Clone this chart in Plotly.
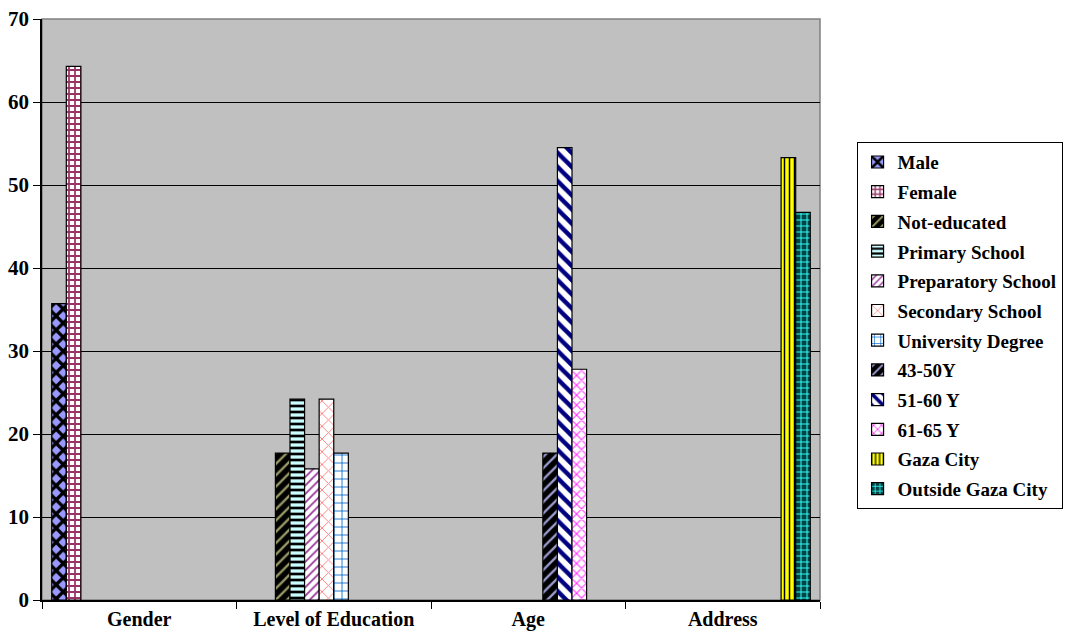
import plotly.graph_objects as go

categories = ["Gender", "Level of Education", "Age", "Address"]

series_names = [
    "Male", "Female", "Not-educated", "Primary School", "Preparatory School",
    "Secondary School", "University Degree", "43-50Y", "51-60 Y", "61-65 Y",
    "Gaza City", "Outside Gaza City",
]

# percentage per series, one value in the category it belongs to
male = [35.7, None, None, None]
female = [64.3, None, None, None]
not_educated = [None, 17.7, None, None]
primary_school = [None, 24.2, None, None]
preparatory_school = [None, 15.8, None, None]
secondary_school = [None, 24.2, None, None]
university_degree = [None, 17.7, None, None]
age_43_50 = [None, None, 17.7, None]
age_51_60 = [None, None, 54.5, None]
age_61_65 = [None, None, 27.8, None]
gaza_city = [None, None, None, 53.3]
outside_gaza_city = [None, None, None, 46.7]

series_values = [
    male, female, not_educated, primary_school, preparatory_school,
    secondary_school, university_degree, age_43_50, age_51_60, age_61_65,
    gaza_city, outside_gaza_city,
]

y_ticks = [0, 10, 20, 30, 40, 50, 60, 70]

# (background colour, pattern colour, pattern shape, solidity, size)
styles = [
    ("#9999FF", "#000000", "x", 0.55, 10),
    ("#FFFFFF", "#993366", "+", 0.5, 6),
    ("#000000", "#999966", "/", 0.3, 8),
    ("#CCFFFF", "#000000", "-", 0.45, 6),
    ("#FFFFFF", "#993399", "/", 0.3, 6),
    ("#FFFFFF", "#FF8080", "x", 0.2, 9),
    ("#FFFFFF", "#0066CC", "+", 0.2, 8),
    ("#000000", "#9999CC", "/", 0.3, 8),
    ("#FFFFFF", "#000080", "\\", 0.45, 10),
    ("#FFFFFF", "#FF33FF", "x", 0.3, 7),
    ("#FFFF00", "#000000", "|", 0.3, 5),
    ("#004444", "#33FFFF", "+", 0.3, 6),
]

font_family = "Liberation Serif, Times New Roman, serif"

fig = go.Figure()
for i, (name, vals) in enumerate(zip(series_names, series_values)):
    bg, fg, shape, solid, size = styles[i]
    fig.add_trace(go.Bar(
        name=name,
        x=categories,
        y=vals,
        legendgroup=name,
        marker=dict(
            color=bg,
            line=dict(color="#000000", width=1.2),
            pattern=dict(shape=shape, fgcolor=fg, bgcolor=bg,
                         size=size, solidity=solid, fillmode="replace"),
        ),
    ))

# light frame around the plotting area
fig.add_shape(type="rect", xref="paper", yref="paper", x0=0, y0=0, x1=1, y1=1,
              line=dict(color="#808080", width=1.5), layer="below")

fig.update_layout(
    width=1074,
    height=635,
    margin=dict(l=42, r=254, t=19, b=35, autoexpand=False),
    paper_bgcolor="#FFFFFF",
    plot_bgcolor="#C0C0C0",
    barmode="group",
    bargap=0.1,
    bargroupgap=0,
    font=dict(family=font_family, size=19, color="#000000"),
    showlegend=True,
    legend=dict(
        x=1.047, y=0.788, xanchor="left", yanchor="top",
        bordercolor="#000000", borderwidth=1,
        bgcolor="#FFFFFF",
        traceorder="grouped",
        tracegroupgap=2,
        font=dict(family=font_family, size=19, color="#000000", weight="bold"),
        itemwidth=30,
    ),
    xaxis=dict(
        type="category",
        automargin=False,
        tickson="boundaries",
        ticks="outside",
        ticklen=7,
        tickcolor="#000000",
        showline=True,
        linecolor="#000000",
        linewidth=1.5,
        showgrid=False,
        tickfont=dict(family=font_family, size=20, weight="bold"),
    ),
    yaxis=dict(
        range=[0, 70],
        automargin=False,
        tickvals=y_ticks,
        ticks="outside",
        ticklen=7,
        tickcolor="#000000",
        showline=True,
        linecolor="#000000",
        linewidth=1.5,
        showgrid=True,
        gridcolor="#000000",
        gridwidth=1.2,
        zeroline=False,
        tickfont=dict(family=font_family, size=21, weight="bold"),
    ),
)

fig.write_html("out.html")
